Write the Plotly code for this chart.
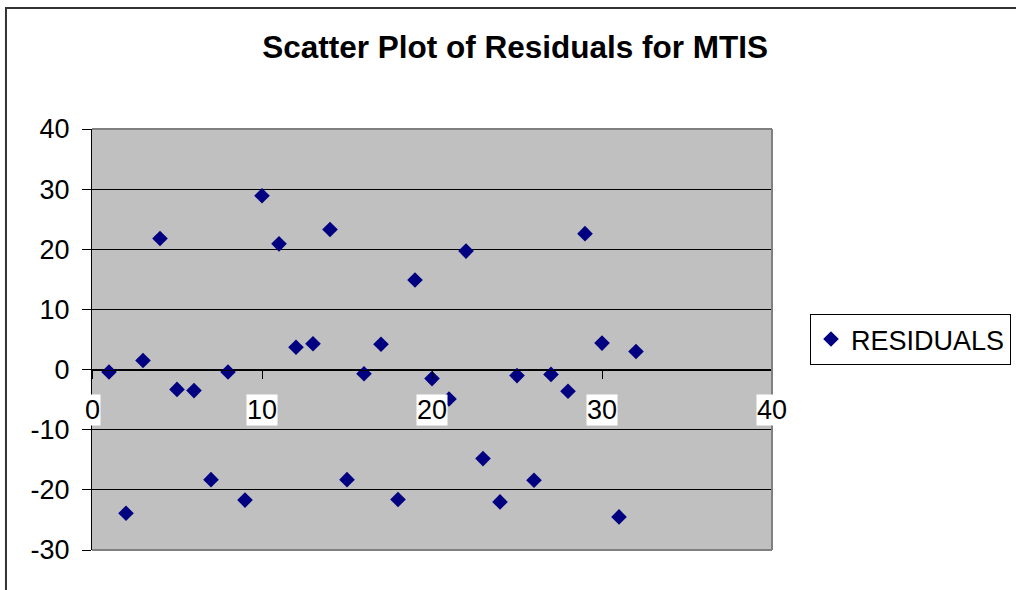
import plotly.graph_objects as go

# ---- data ----
obs = list(range(1, 33))
residuals = [-0.4, -23.9, 1.5, 21.8, -3.3, -3.5, -18.3, -0.4, -21.7, 28.9,
             20.9, 3.7, 4.3, 23.3, -18.3, -0.7, 4.2, -21.6, 14.9, -1.5,
             -4.9, 19.7, -14.8, -22.0, -1.0, -18.4, -0.8, -3.6, 22.6, 4.4,
             -24.5, 3.0]
x_ticks = [0, 10, 20, 30, 40]
y_ticks = [-30, -20, -10, 0, 10, 20, 30, 40]
y_tick_labels = ["-30", "-20", "-10", "0", "10", "20", "30", "40"]
x_range = [0, 40]
y_range = [-30, 40]
title_text = "Scatter Plot of Residuals for MTIS"
series_name = "RESIDUALS"

FONT = "Arial, 'Liberation Sans', sans-serif"

fig = go.Figure()
fig.add_trace(go.Scatter(
    x=obs, y=residuals, mode="markers", name=series_name,
    marker=dict(symbol="diamond", size=12, color="#000080",
                line=dict(width=0)),
    showlegend=True,
))

zero_pos = (0 - y_range[0]) / (y_range[1] - y_range[0])

fig.update_layout(
    width=1016, height=590,
    margin=dict(l=92, r=244, t=129, b=40, pad=0, autoexpand=False),
    paper_bgcolor="white",
    plot_bgcolor="#C0C0C0",
    font=dict(family=FONT, color="black", size=27),
    title=dict(text="<b>" + title_text + "</b>", x=0.507, xref="container",
               xanchor="center", y=1 - 47 / 590, yref="container",
               yanchor="middle", font=dict(size=31.5, family=FONT, color="black")),
    showlegend=True,
    legend=dict(x=810 / 1016, xref="container", xanchor="left",
                y=0.5, yanchor="middle",
                bordercolor="black", borderwidth=1, bgcolor="white",
                font=dict(size=27, family=FONT), itemsizing="constant"),
    xaxis=dict(range=x_range, tickvals=x_ticks, showticklabels=False,
               showgrid=False, zeroline=False, showline=True,
               linecolor="black", linewidth=1, ticks="outside", ticklen=8,
               tickcolor="black", tickwidth=1,
               anchor="free", position=zero_pos),
    yaxis=dict(range=y_range, tickvals=y_ticks, ticktext=y_tick_labels,
               showgrid=True,
               gridcolor="black", gridwidth=1, zeroline=False,
               showline=True, linecolor="black", linewidth=1,
               ticks="outside", ticklen=9, tickcolor="black",
               ticklabelstandoff=7,
               tickfont=dict(size=27, family=FONT)),
)

# plot-area border (grey top/right/bottom)
for x0, y0, x1, y1 in [(0, 1, 1, 1), (1, 0, 1, 1), (0, 0, 1, 0)]:
    fig.add_shape(type="line", xref="paper", yref="paper",
                  x0=x0, y0=y0, x1=x1, y1=y1,
                  line=dict(color="#808080", width=2), layer="above")

# outer chart frame
fig.add_shape(type="rect", xref="paper", yref="paper",
              x0=-0.1265, y0=-0.3, x1=1.5, y1=1.2874,
              line=dict(color="#333333", width=2), layer="above")

# x tick labels on white boxes below the zero line
for v in x_ticks:
    fig.add_annotation(x=v, y=0, xref="x", yref="y", text=str(v),
                       showarrow=False, yanchor="top", xanchor="center",
                       yshift=-24, bgcolor="white", borderpad=0,
                       font=dict(size=27, family=FONT, color="black"))

fig.write_html("out.html")
